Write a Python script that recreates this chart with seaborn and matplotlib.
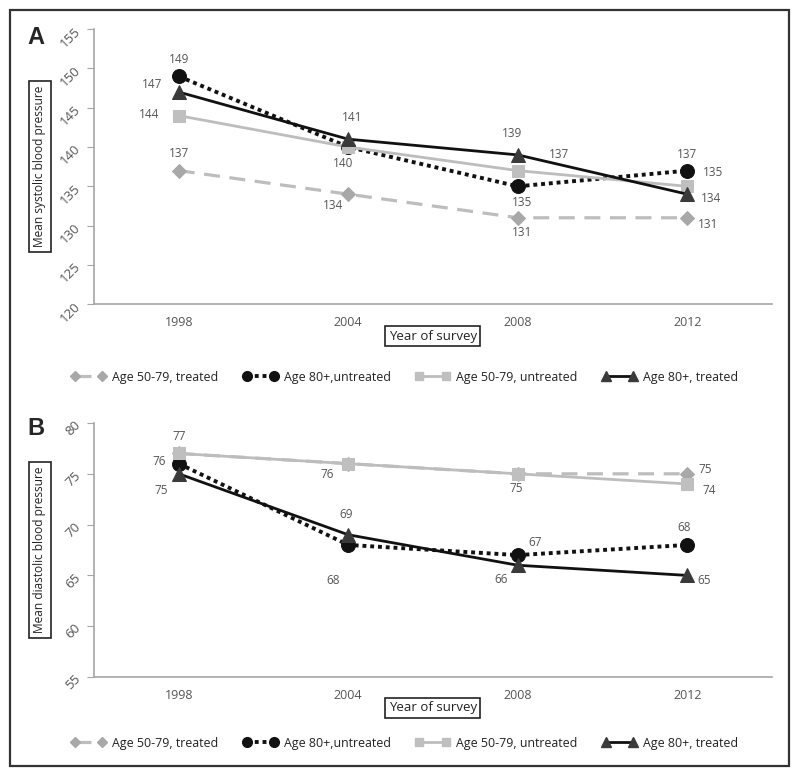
import numpy as np
import pandas as pd
import matplotlib
matplotlib.use("Agg")
import matplotlib.pyplot as plt
import seaborn as sns
from matplotlib.lines import Line2D
from matplotlib.patches import Rectangle

# données
years = ["1998", "2004", "2008", "2012"]
series = ["Age 50-79, treated", "Age 80+,untreated", "Age 50-79, untreated", "Age 80+, treated"]

sys_50_79_treated = [137, 134, 131, 131]
sys_80_untreated = [149, 140, 135, 137]
sys_50_79_untreated = [144, 140, 137, 135]
sys_80_treated = [147, 141, 139, 134]

dia_50_79_treated = [77, 76, 75, 75]
dia_80_untreated = [76, 68, 67, 68]
dia_50_79_untreated = [77, 76, 75, 74]
dia_80_treated = [75, 69, 66, 65]

# styles
styles = {
    "Age 50-79, treated": dict(color="#bdbdbd", ls=(0, (5, 3)), lw=2.3, marker="D", mc="#a8a8a8", ms=7),
    "Age 80+,untreated": dict(color="#111111", ls=(0, (1, 1)), lw=2.8, marker="o", mc="#111111", ms=10),
    "Age 50-79, untreated": dict(color="#bdbdbd", ls="-", lw=2.0, marker="s", mc="#bfbfbf", ms=9),
    "Age 80+, treated": dict(color="#111111", ls="-", lw=2.0, marker="^", mc="#3a3a3a", ms=10),
}

# décalages des étiquettes (pixels), None = pas d'étiquette
offs_sys = {
    "Age 50-79, treated": [(0, 17), (-15, -11), (4, -15), (21, -7)],
    "Age 80+,untreated": [(0, 17), None, (4, -16), (0, 16)],
    "Age 50-79, untreated": [(-30, 1), (-5, -16), (41, 16), (26, 14)],
    "Age 80+, treated": [(-27, 8), (4, 22), (-6, 21), (24, -4)],
}
offs_dia = {
    "Age 50-79, treated": [None, None, None, (18, 4)],
    "Age 80+,untreated": [(-20, 2), (-15, -36), (17, 13), (-3, 17)],
    "Age 50-79, untreated": [(0, 17), (-21, -11), (-2, -15), (22, -7)],
    "Age 80+, treated": [(-18, -17), (-2, 20), (-17, -14), (17, -5)],
}

sns.set_style("white")
plt.rcParams["font.family"] = ["Open Sans", "DejaVu Sans"]

fig = plt.figure(figsize=(8, 7.78), dpi=100)
axA = fig.add_axes([0.1175, 0.609, 0.8475, 0.3535])
axB = fig.add_axes([0.1175, 0.1298, 0.8475, 0.3265])

x = np.arange(len(years))


def draw(ax, data, offs, ylim, yticks, ylabel, letter, ytxt, yyear, yleg):
    for name in series:
        st = styles[name]
        vals = data[name]
        df = pd.DataFrame({"x": x, "y": vals})
        sns.lineplot(data=df, x="x", y="y", ax=ax, color=st["color"], lw=st["lw"],
                     linestyle=st["ls"], marker=st["marker"], markersize=st["ms"],
                     markerfacecolor=st["mc"], markeredgecolor=st["mc"], zorder=3)
        for i, v in enumerate(vals):
            o = offs[name][i]
            if o is None:
                continue
            ax.annotate(str(v), (x[i], v), xytext=o, textcoords="offset pixels",
                        ha="center", va="center", fontsize=8.5, color="#555555")
    ax.set_xlim(-0.5, 3.5)
    ax.set_ylim(*ylim)
    ax.set_yticks(yticks)
    ax.set_xticks(x)
    ax.set_xticklabels(years)
    ax.set_xlabel("")
    ax.set_ylabel("")
    for s in ["top", "right"]:
        ax.spines[s].set_visible(False)
    for s in ["left", "bottom"]:
        ax.spines[s].set_color("#a6a6a6")
        ax.spines[s].set_linewidth(1.2)
    ax.tick_params(axis="y", left=True, length=5, color="#a6a6a6", labelsize=9.5, labelcolor="#555555", pad=6)
    ax.tick_params(axis="x", bottom=False, labelsize=9, labelcolor="#555555", pad=5)
    for lab in ax.get_yticklabels():
        lab.set_rotation(45)
        lab.set_rotation_mode("anchor")
        lab.set_ha("right")
        lab.set_va("center")
    pos = ax.get_position()
    fig.text(0.05, (pos.y0 + pos.y1) / 2, ylabel, rotation=90, ha="center", va="center",
             fontsize=8.6, color="#222222",
             bbox=dict(boxstyle="square,pad=0.4", fc="white", ec="#222222", lw=1.2))
    fig.text(0.045, ytxt, letter, fontsize=17, fontweight="bold", ha="center", va="center",
             family=["Liberation Sans", "DejaVu Sans"])
    fig.text(0.541, yyear, "Year of survey", ha="center", va="center", fontsize=9.5, color="#222222",
             bbox=dict(boxstyle="square,pad=0.25", fc="white", ec="#222222", lw=1.2))
    handles = []
    for name in series:
        st = styles[name]
        handles.append(Line2D([0], [0], color=st["color"], ls=st["ls"], lw=st["lw"],
                              marker=st["marker"], markersize=st["ms"] * 0.7,
                              markerfacecolor=st["mc"], markeredgecolor=st["mc"]))
    fig.legend(handles, series, loc="center", bbox_to_anchor=(0.506, yleg), ncol=4, frameon=False,
               fontsize=8.9, handlelength=2.8, columnspacing=2.0, handletextpad=0.5, numpoints=2,
               labelcolor="#222222")


dataA = dict(zip(series, [sys_50_79_treated, sys_80_untreated, sys_50_79_untreated, sys_80_treated]))
dataB = dict(zip(series, [dia_50_79_treated, dia_80_untreated, dia_50_79_untreated, dia_80_treated]))

draw(axA, dataA, offs_sys, (120, 155), range(120, 156, 5), "Mean systolic blood pressure",
     "A", 1 - 37 / 778, 1 - 336 / 778, 1 - 377 / 778)
draw(axB, dataB, offs_dia, (55, 80), range(55, 81, 5), "Mean diastolic blood pressure",
     "B", 1 - 429 / 778, 1 - 708 / 778, 1 - 743 / 778)

fig.patches.append(Rectangle((10 / 800, 1 - 766 / 778), 779 / 800, 756 / 778, transform=fig.transFigure,
                             fill=False, ec="#333333", lw=1.6))

fig.savefig("out.png", dpi=100)
